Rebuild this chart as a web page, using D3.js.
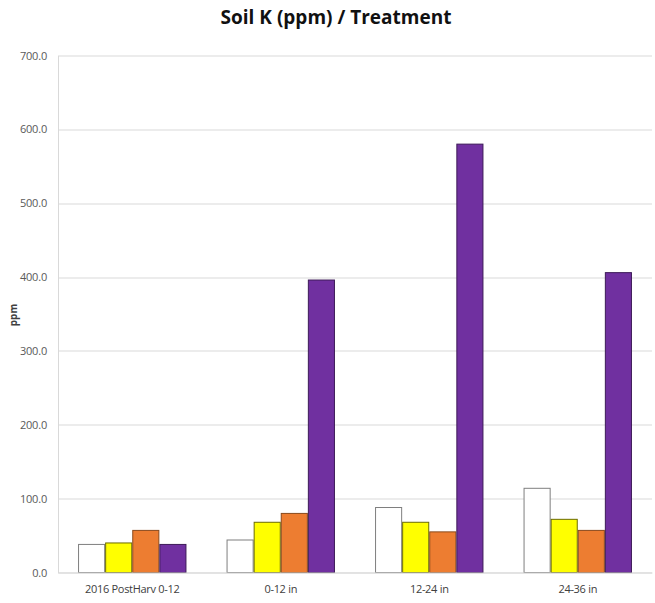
<!DOCTYPE html>
<html>
<head>
<meta charset="utf-8">
<script src="https://cdn.jsdelivr.net/npm/d3@7"></script>
<style>
  html, body { margin: 0; padding: 0; background: #fff; }
  svg { display: block; }
</style>
</head>
<body>
<svg id="chart" width="655" height="603"></svg>
<script>
// Soil K (ppm) by treatment and depth
const categories = ["2016 PostHarv 0-12", "0-12 in", "12-24 in", "24-36 in"];
const seriesNames = ["T1", "T2", "T3", "T4"];
const seriesFill = ["#ffffff", "#ffff00", "#ed7d31", "#7030a0"];
const seriesStroke = ["#7f7f7f", "#6b6b00", "#8a4a1c", "#3d1a58"];
const values = [
  [38, 40, 57, 38],      // 2016 PostHarv 0-12
  [44, 68, 80, 396],     // 0-12 in
  [88, 68, 55, 580],     // 12-24 in
  [114, 72, 57, 406]     // 24-36 in
];
const yTicks = [0, 100, 200, 300, 400, 500, 600, 700];

const svg = d3.select("#chart");
const margin = { top: 55.5, right: 3, bottom: 30.5, left: 58 };
const W = 655, H = 603;
const innerW = W - margin.left - margin.right;
const innerH = H - margin.top - margin.bottom;
const font = "'Open Sans', 'Liberation Sans', sans-serif";

const g = svg.append("g").attr("transform", `translate(${margin.left},${margin.top})`);

const x0 = d3.scaleBand().domain(categories).range([0, innerW]).paddingInner(0.27).paddingOuter(0.135);
const x1 = d3.scaleBand().domain(seriesNames).range([0, x0.bandwidth()]).padding(0);
const y = d3.scaleLinear().domain([0, 700]).range([innerH, 0]);

// gridlines
g.append("g")
  .selectAll("line")
  .data(yTicks)
  .join("line")
  .attr("x1", 0).attr("x2", innerW)
  .attr("y1", d => Math.round(y(d)) + 0.5).attr("y2", d => Math.round(y(d)) + 0.5)
  .attr("stroke", "#d9d9d9").attr("stroke-width", 1);

// y axis
const yAxis = g.append("g")
  .attr("color", "#595959")
  .call(d3.axisLeft(y).tickValues(yTicks).tickFormat(d3.format(".1f")).tickSize(0).tickPadding(11));
yAxis.select(".domain").attr("stroke", "#d9d9d9");
yAxis.selectAll("text")
  .attr("fill", "#595959")
  .style("font-family", font)
  .style("font-size", "11px")
  .style("letter-spacing", "-0.2px");

// bars
const groups = g.append("g")
  .selectAll("g")
  .data(values)
  .join("g")
  .attr("transform", (d, i) => `translate(${x0(categories[i])},0)`);

groups.selectAll("rect")
  .data(d => d.map((v, j) => ({ v, j })))
  .join("rect")
  .attr("x", d => x1(seriesNames[d.j]) + 0.5)
  .attr("width", x1.bandwidth() - 1)
  .attr("y", d => y(d.v))
  .attr("height", d => y(0) - y(d.v))
  .attr("fill", d => seriesFill[d.j])
  .attr("stroke", d => seriesStroke[d.j])
  .attr("stroke-width", 1);

// x axis
const xAxis = g.append("g")
  .attr("color", "#404040")
  .attr("transform", `translate(0,${innerH})`)
  .call(d3.axisBottom(x0).tickSize(0).tickPadding(13));
xAxis.select(".domain").attr("stroke", "#d9d9d9");
xAxis.selectAll("text")
  .attr("fill", "#404040")
  .style("font-family", font)
  .style("font-size", "11px")
  .style("letter-spacing", "-0.3px");

// y axis title
svg.append("text")
  .attr("transform", "translate(17,315) rotate(-90)")
  .attr("text-anchor", "middle")
  .attr("fill", "#404040")
  .style("font-family", font)
  .style("font-size", "10px")
  .style("font-weight", "bold")
  .text("ppm");

// chart title
svg.append("text")
  .attr("x", 336).attr("y", 24)
  .attr("text-anchor", "middle")
  .attr("fill", "#111")
  .style("font-family", font)
  .style("font-size", "19px")
  .style("font-weight", "bold")
  .text("Soil K (ppm) / Treatment");
</script>
</body>
</html>
